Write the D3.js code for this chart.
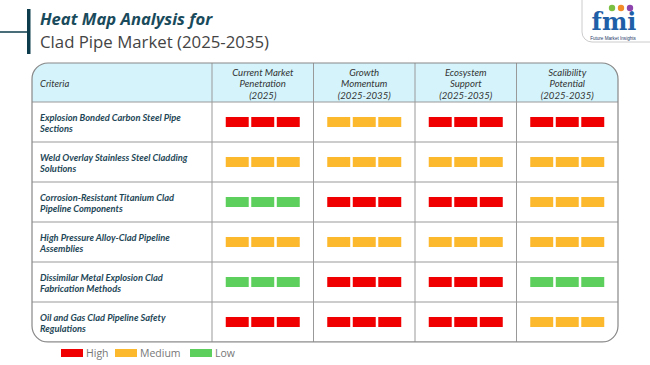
<!DOCTYPE html>
<html>
<head>
<meta charset="utf-8">
<script src="https://cdn.jsdelivr.net/npm/d3@7/dist/d3.min.js"></script>
<style>
  html, body { margin: 0; padding: 0; background: #fff; }
  svg { display: block; }
</style>
</head>
<body>
<div id="main"></div>
<script>
// ---- data ----
const criteria = [
    ['Explosion Bonded Carbon Steel Pipe', 'Sections'],
    ['Weld Overlay Stainless Steel Cladding', 'Solutions'],
    ['Corrosion-Resistant Titanium Clad', 'Pipeline Components'],
    ['High Pressure Alloy-Clad Pipeline', 'Assemblies'],
    ['Dissimilar Metal Explosion Clad', 'Fabrication Methods'],
    ['Oil and Gas Clad Pipeline Safety', 'Regulations']
];
const metrics = [
    ['Current Market', 'Penetration', '(2025)'],
    ['Growth', 'Momentum', '(2025-2035)'],
    ['Ecosystem', 'Support', '(2025-2035)'],
    ['Scalibility', 'Potential', '(2025-2035)']
];
// H = High, M = Medium, L = Low
const ratings = [
    ['H', 'M', 'H', 'H'],
    ['M', 'M', 'M', 'M'],
    ['L', 'H', 'H', 'M'],
    ['M', 'M', 'M', 'M'],
    ['L', 'H', 'H', 'L'],
    ['H', 'H', 'H', 'M']
];
const levels = ['H', 'M', 'L'];
const levelNames = ['High', 'Medium', 'Low'];
const levelColors = ['#f00000', '#fdb92e', '#5ccf5c'];

const W = 650, H = 365;
const svg = d3.select('#main').append('svg').attr('width', W).attr('height', H);

const color = d3.scaleOrdinal().domain(levels).range(levelColors);

// table frame
const tLeft = 32, tRight = 618, tTop = 63, headBottom = 102, tBottom = 342, critRight = 212;
const x = d3.scaleBand().domain(d3.range(metrics.length)).range([critRight, tRight]);
const y = d3.scaleBand().domain(d3.range(criteria.length)).range([headBottom, tBottom]);
const inner = d3.scaleBand().domain([0, 1, 2]).range([-37, 37]).paddingInner(0.1);

// ---- title ----
svg.append('line').attr('x1', 0).attr('x2', 29).attr('y1', 32).attr('y2', 32)
    .attr('stroke', '#0d3c4c').attr('stroke-width', 1.5);
svg.append('rect').attr('x', 27).attr('y', 9).attr('width', 3.5).attr('height', 45).attr('fill', '#0d3c4c');
svg.append('text').attr('x', 40).attr('y', 25)
    .attr('font-family', 'Open Sans').attr('font-weight', 700).attr('font-style', 'italic')
    .attr('font-size', 16.6).attr('fill', '#1a4b5c').text('Heat Map Analysis for');
svg.append('text').attr('x', 40).attr('y', 48)
    .attr('font-family', 'Open Sans').attr('font-size', 16.8).attr('fill', '#444')
    .text('Clad Pipe Market (2025-2035)');

// ---- logo ----
const logo = svg.append('g');
logo.append('rect').attr('x', 582).attr('y', -12).attr('width', 90).attr('height', 54).attr('rx', 10)
    .attr('fill', '#fff').attr('stroke', '#ccc');
logo.append('text').attr('x', 614).attr('y', 30).attr('text-anchor', 'middle')
    .attr('font-family', 'DejaVu Serif').attr('font-weight', 700).attr('font-size', 24)
    .attr('fill', '#1f5fa8').text('fmi');
[['#7bc043', 612], ['#f28c28', 621], ['#8e44ad', 630]].forEach(function (d) {
    logo.append('circle').attr('cx', d[1]).attr('cy', 8).attr('r', 3.2).attr('fill', d[0]);
});
logo.append('text').attr('x', 613).attr('y', 40).attr('text-anchor', 'middle')
    .attr('font-family', 'Liberation Sans').attr('font-size', 4.6).attr('fill', '#1f3b6a')
    .text('Future Market Insights');

// ---- table ----
const clipId = 'tclip';
svg.append('clipPath').attr('id', clipId).append('rect')
    .attr('x', tLeft).attr('y', tTop).attr('width', tRight - tLeft).attr('height', tBottom - tTop).attr('rx', 16);
const table = svg.append('g');
const clipped = table.append('g').attr('clip-path', `url(#${clipId})`);
clipped.append('rect').attr('x', tLeft).attr('y', tTop).attr('width', tRight - tLeft)
    .attr('height', headBottom - tTop).attr('fill', '#d4f3fb');

// grid lines
clipped.selectAll('line.h').data(d3.range(criteria.length + 1)).join('line')
    .attr('x1', tLeft).attr('x2', tRight)
    .attr('y1', d => y(d) === undefined ? tBottom : y(d))
    .attr('y2', d => y(d) === undefined ? tBottom : y(d))
    .attr('stroke', '#999').attr('stroke-width', 1);
clipped.selectAll('line.v').data(d3.range(metrics.length)).join('line')
    .attr('x1', d => x(d)).attr('x2', d => x(d))
    .attr('y1', tTop).attr('y2', tBottom)
    .attr('stroke', '#999').attr('stroke-width', 1);
table.append('rect').attr('x', tLeft).attr('y', tTop).attr('width', tRight - tLeft)
    .attr('height', tBottom - tTop).attr('rx', 16).attr('fill', 'none')
    .attr('stroke', '#888').attr('stroke-width', 1.2);

// header text
table.append('text').attr('x', 40).attr('y', 87)
    .attr('font-family', 'Lato').attr('font-style', 'italic').attr('font-size', 9.5)
    .attr('fill', '#333').text('Criteria');
metrics.forEach(function (m, j) {
    const t = table.append('text').attr('text-anchor', 'middle')
        .attr('font-family', 'Lato').attr('font-style', 'italic').attr('font-size', 9.6)
        .attr('fill', '#333');
    m.forEach(function (line, k) {
        t.append('tspan').attr('x', x(j) + x.bandwidth() / 2).attr('y', 75.5 + k * 11.7).text(line);
    });
});

// row labels
criteria.forEach(function (c, i) {
    const cy = y(i) + y.bandwidth() / 2;
    const t = table.append('text')
        .attr('font-family', 'Lato').attr('font-style', 'italic').attr('font-weight', 700)
        .attr('font-size', 9.3).attr('fill', '#1e4757');
    c.forEach(function (line, k) {
        t.append('tspan').attr('x', 40).attr('y', cy - 1.5 + k * 11.7).text(line);
    });
});

// rating bars
const cells = [];
ratings.forEach(function (row, i) {
    row.forEach(function (r, j) {
        [0, 1, 2].forEach(function (b) { cells.push({ i: i, j: j, b: b, r: r }); });
    });
});
table.selectAll('rect.bar').data(cells).join('rect').attr('class', 'bar')
    .attr('x', d => x(d.j) + x.bandwidth() / 2 + inner(d.b))
    .attr('y', d => y(d.i) + y.bandwidth() / 2 - 5)
    .attr('width', inner.bandwidth())
    .attr('height', 10)
    .attr('fill', d => color(d.r));

// ---- legend ----
const leg = svg.append('g').selectAll('g').data(levels).join('g')
    .attr('transform', (d, i) => `translate(${[61, 115, 190][i]},349)`);
leg.append('rect').attr('width', 22).attr('height', 8).attr('fill', d => color(d));
leg.append('text').attr('x', 25).attr('y', 8)
    .attr('font-family', 'Open Sans').attr('font-size', 10.5).attr('fill', '#777')
    .text((d, i) => levelNames[i]);
</script>
</body>
</html>
